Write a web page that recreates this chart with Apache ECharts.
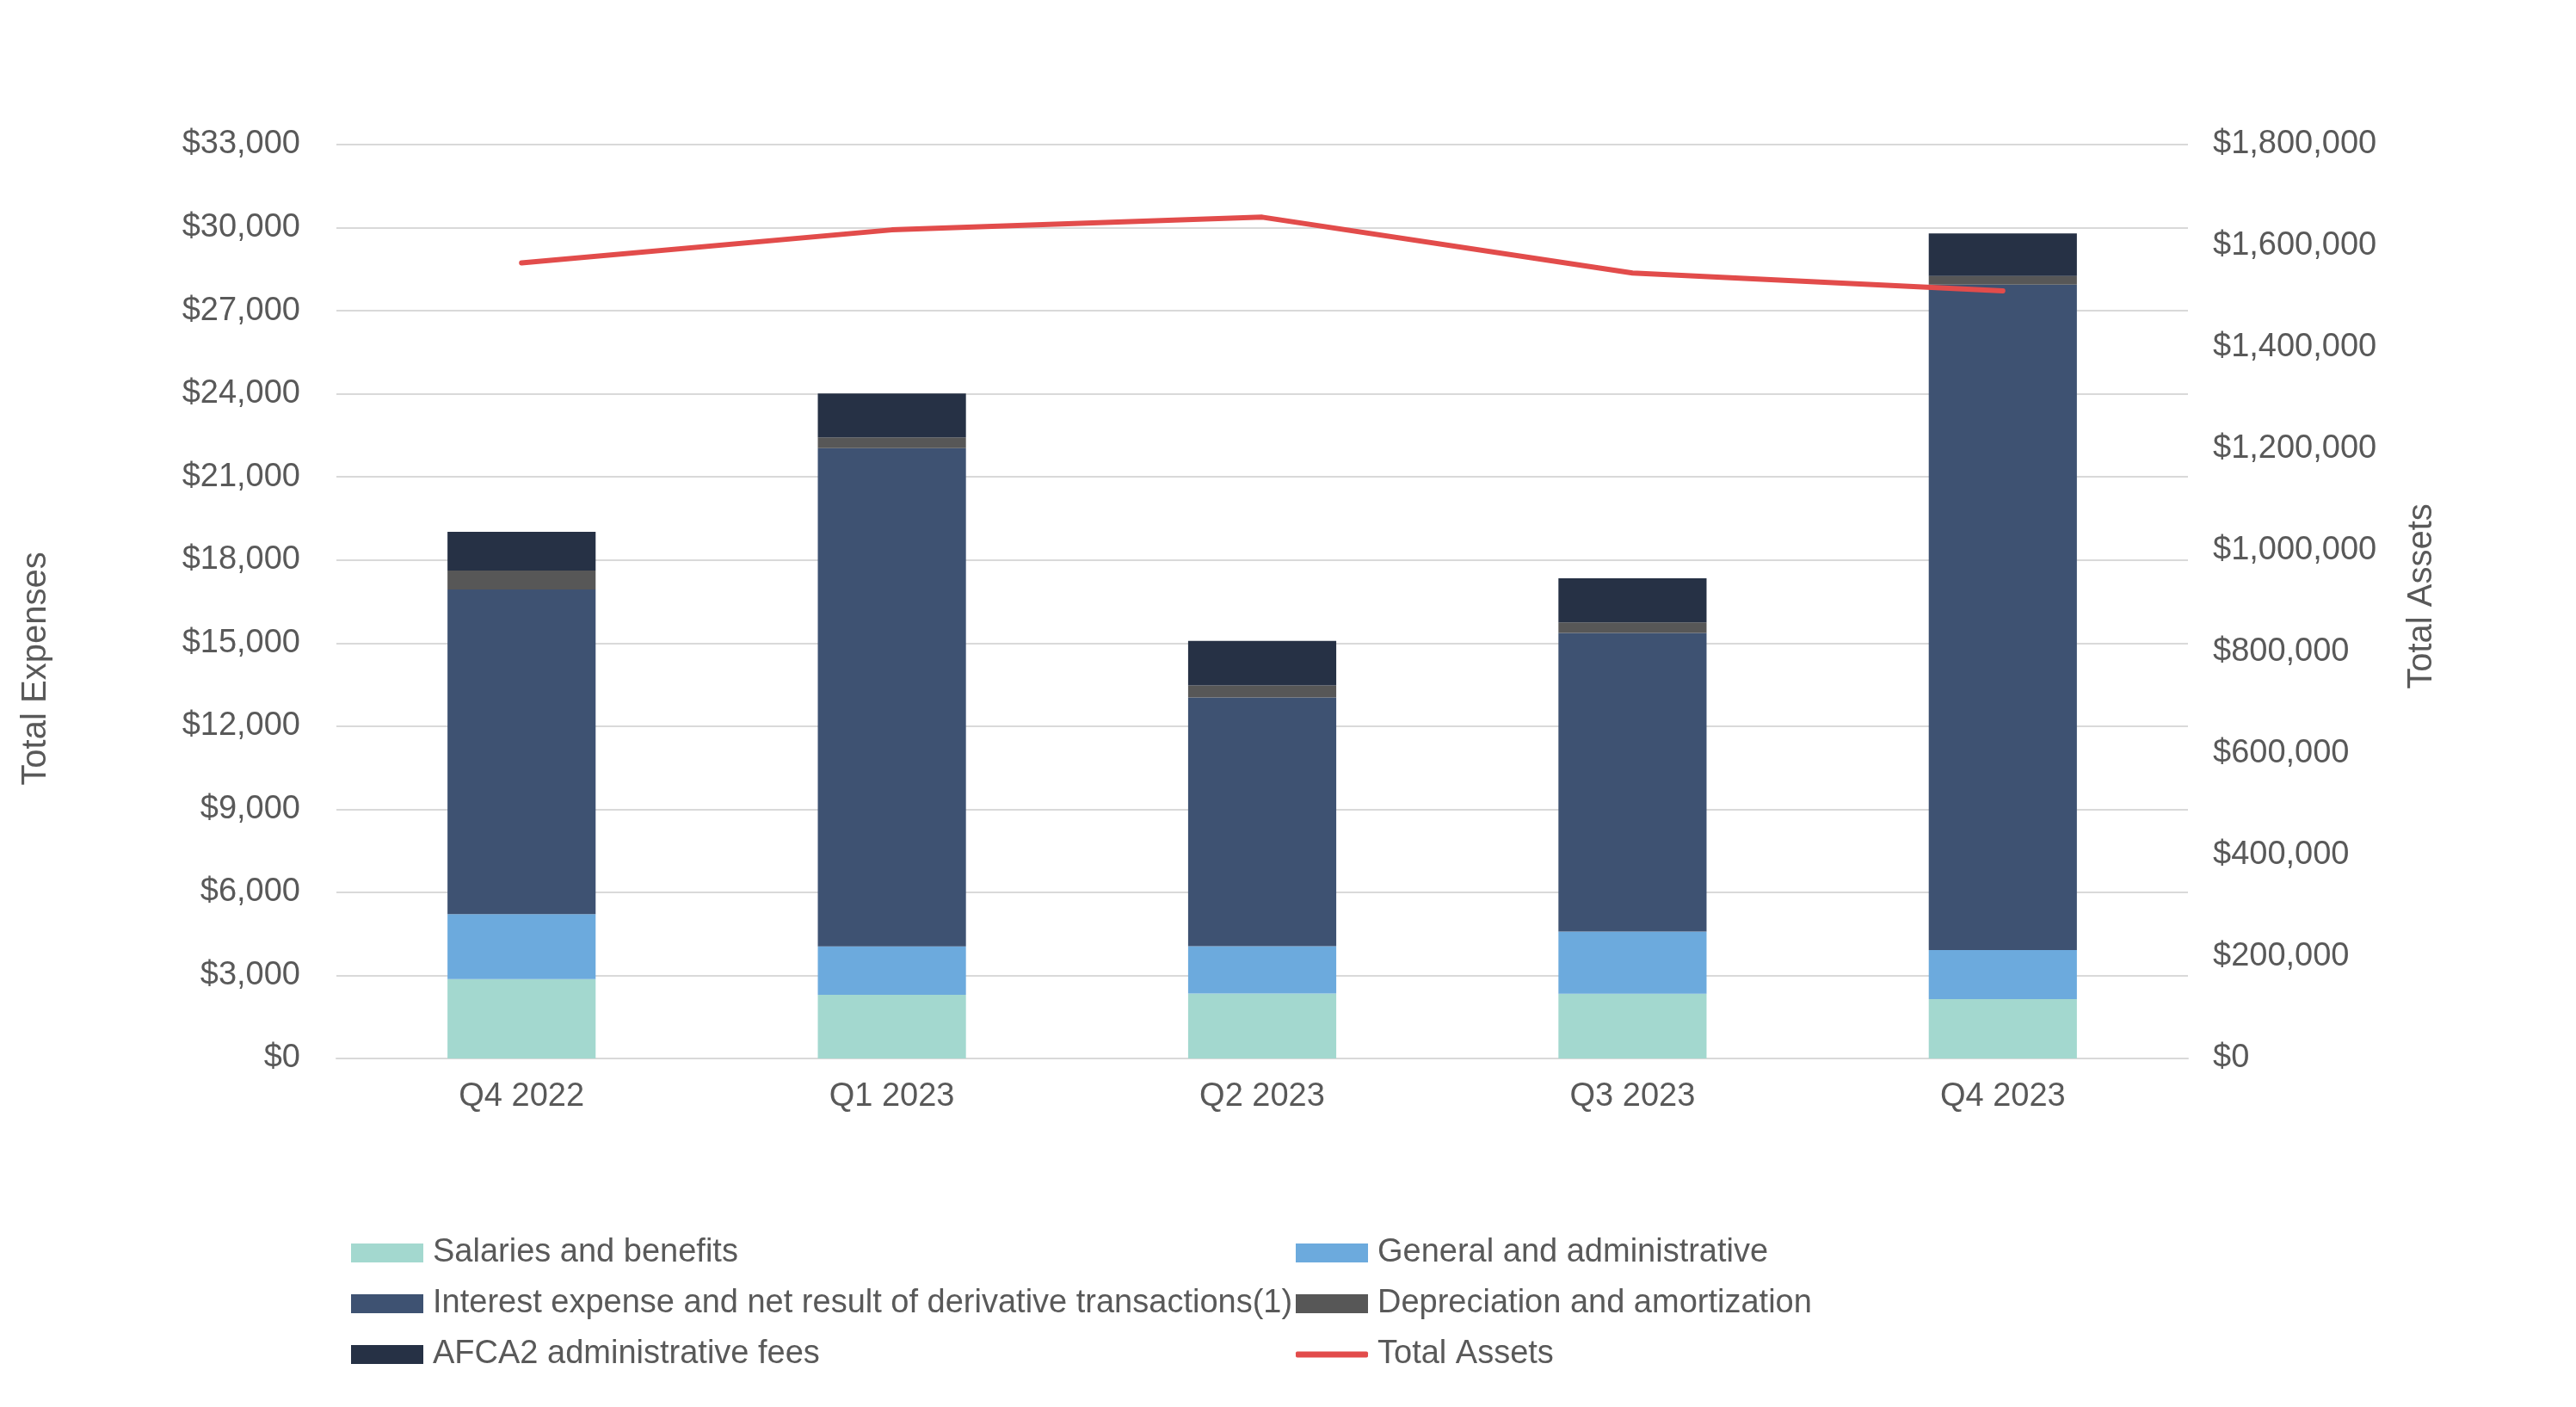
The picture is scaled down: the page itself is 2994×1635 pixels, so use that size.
<!DOCTYPE html>
<html>
<head>
<meta charset="utf-8">
<script src="https://cdn.jsdelivr.net/npm/echarts@6/dist/echarts.min.js"></script>
<style>html,body{margin:0;padding:0;background:#fff;}#chart{width:2994px;height:1635px;}</style>
</head>
<body>
<div id="chart"></div>
<script>
const categories = ['Q4 2022', 'Q1 2023', 'Q2 2023', 'Q3 2023', 'Q4 2023'];
const salaries = [2870, 2300, 2345, 2337, 2141];
const general = [2345, 1750, 1712, 2248, 1771];
const interest = [11720, 17990, 8977, 10783, 24029];
const depreciation = [680, 390, 437, 381, 309];
const afca = [1400, 1580, 1609, 1588, 1544];
const totalAssets = [1567000, 1632000, 1657000, 1547000, 1512000];
const leftTicks = { min: 0, max: 33000, interval: 3000 };
const rightTicks = { min: 0, max: 1800000, interval: 200000 };

const FONT = "'Liberation Sans', Arial, sans-serif";
const TXT = '#595959';
const fmt = v => '$' + Number(v).toLocaleString('en-US');
const legendText = { color: TXT, fontSize: 38, lineHeight: 38, fontFamily: FONT, padding: [0, 0, 0, 6] };

const chart = echarts.init(document.getElementById('chart'));
const barBase = { type: 'bar', stack: 'exp', barWidth: '40%', yAxisIndex: 0 };
chart.setOption({
  animation: false,
  textStyle: { fontFamily: FONT },
  grid: { left: 391, right: 451, top: 168, height: 1062 },
  xAxis: {
    type: 'category', data: categories,
    axisLine: { lineStyle: { color: '#D9D9D9', width: 2 } },
    axisTick: { show: false },
    axisLabel: { color: TXT, fontSize: 38, fontFamily: FONT, margin: 26 }
  },
  yAxis: [
    {
      type: 'value', min: leftTicks.min, max: leftTicks.max, interval: leftTicks.interval,
      axisLine: { show: false }, axisTick: { show: false },
      splitLine: { lineStyle: { color: '#D9D9D9', width: 2 } },
      axisLabel: { color: TXT, fontSize: 38, fontFamily: FONT, margin: 42, formatter: fmt }
    },
    {
      type: 'value', min: rightTicks.min, max: rightTicks.max, interval: rightTicks.interval,
      axisLine: { show: false }, axisTick: { show: false }, splitLine: { show: false },
      axisLabel: { color: TXT, fontSize: 38, fontFamily: FONT, margin: 29, formatter: fmt }
    }
  ],
  legend: [
    {
      orient: 'vertical', left: 403, top: 1432, itemWidth: 84, itemHeight: 22, itemGap: 21,
      icon: 'rect', textStyle: legendText,
      data: ['Salaries and benefits', 'Interest expense and net result of derivative transactions(1)', 'AFCA2 administrative fees']
    },
    {
      orient: 'vertical', left: 1501, top: 1432, itemWidth: 84, itemHeight: 22, itemGap: 21,
      icon: 'rect', textStyle: legendText,
      data: ['General and administrative', 'Depreciation and amortization']
    },
    {
      orient: 'vertical', left: 1501, top: 1550, itemWidth: 84, itemHeight: 7, itemGap: 21,
      icon: 'roundRect', textStyle: legendText,
      data: ['Total Assets']
    }
  ],
  graphic: [
    { type: 'text', x: 42, y: 777, rotation: Math.PI / 2,
      style: { text: 'Total Expenses', fill: TXT, font: '40px ' + FONT, textAlign: 'center', textVerticalAlign: 'middle' } },
    { type: 'text', x: 2815, y: 693, rotation: Math.PI / 2,
      style: { text: 'Total Assets', fill: TXT, font: '40px ' + FONT, textAlign: 'center', textVerticalAlign: 'middle' } }
  ],
  series: [
    Object.assign({}, barBase, { name: 'Salaries and benefits', data: salaries, itemStyle: { color: '#A3D8CF' } }),
    Object.assign({}, barBase, { name: 'General and administrative', data: general, itemStyle: { color: '#6CAADD' } }),
    Object.assign({}, barBase, { name: 'Interest expense and net result of derivative transactions(1)', data: interest, itemStyle: { color: '#3E5272' } }),
    Object.assign({}, barBase, { name: 'Depreciation and amortization', data: depreciation, itemStyle: { color: '#575757' } }),
    Object.assign({}, barBase, { name: 'AFCA2 administrative fees', data: afca, itemStyle: { color: '#263145' } }),
    {
      name: 'Total Assets', type: 'line', yAxisIndex: 1, data: totalAssets,
      symbol: 'none', z: 10,
      lineStyle: { color: '#E24C4B', width: 6, cap: 'round', join: 'round' },
      itemStyle: { color: '#E24C4B' }
    }
  ]
});
</script>
</body>
</html>
